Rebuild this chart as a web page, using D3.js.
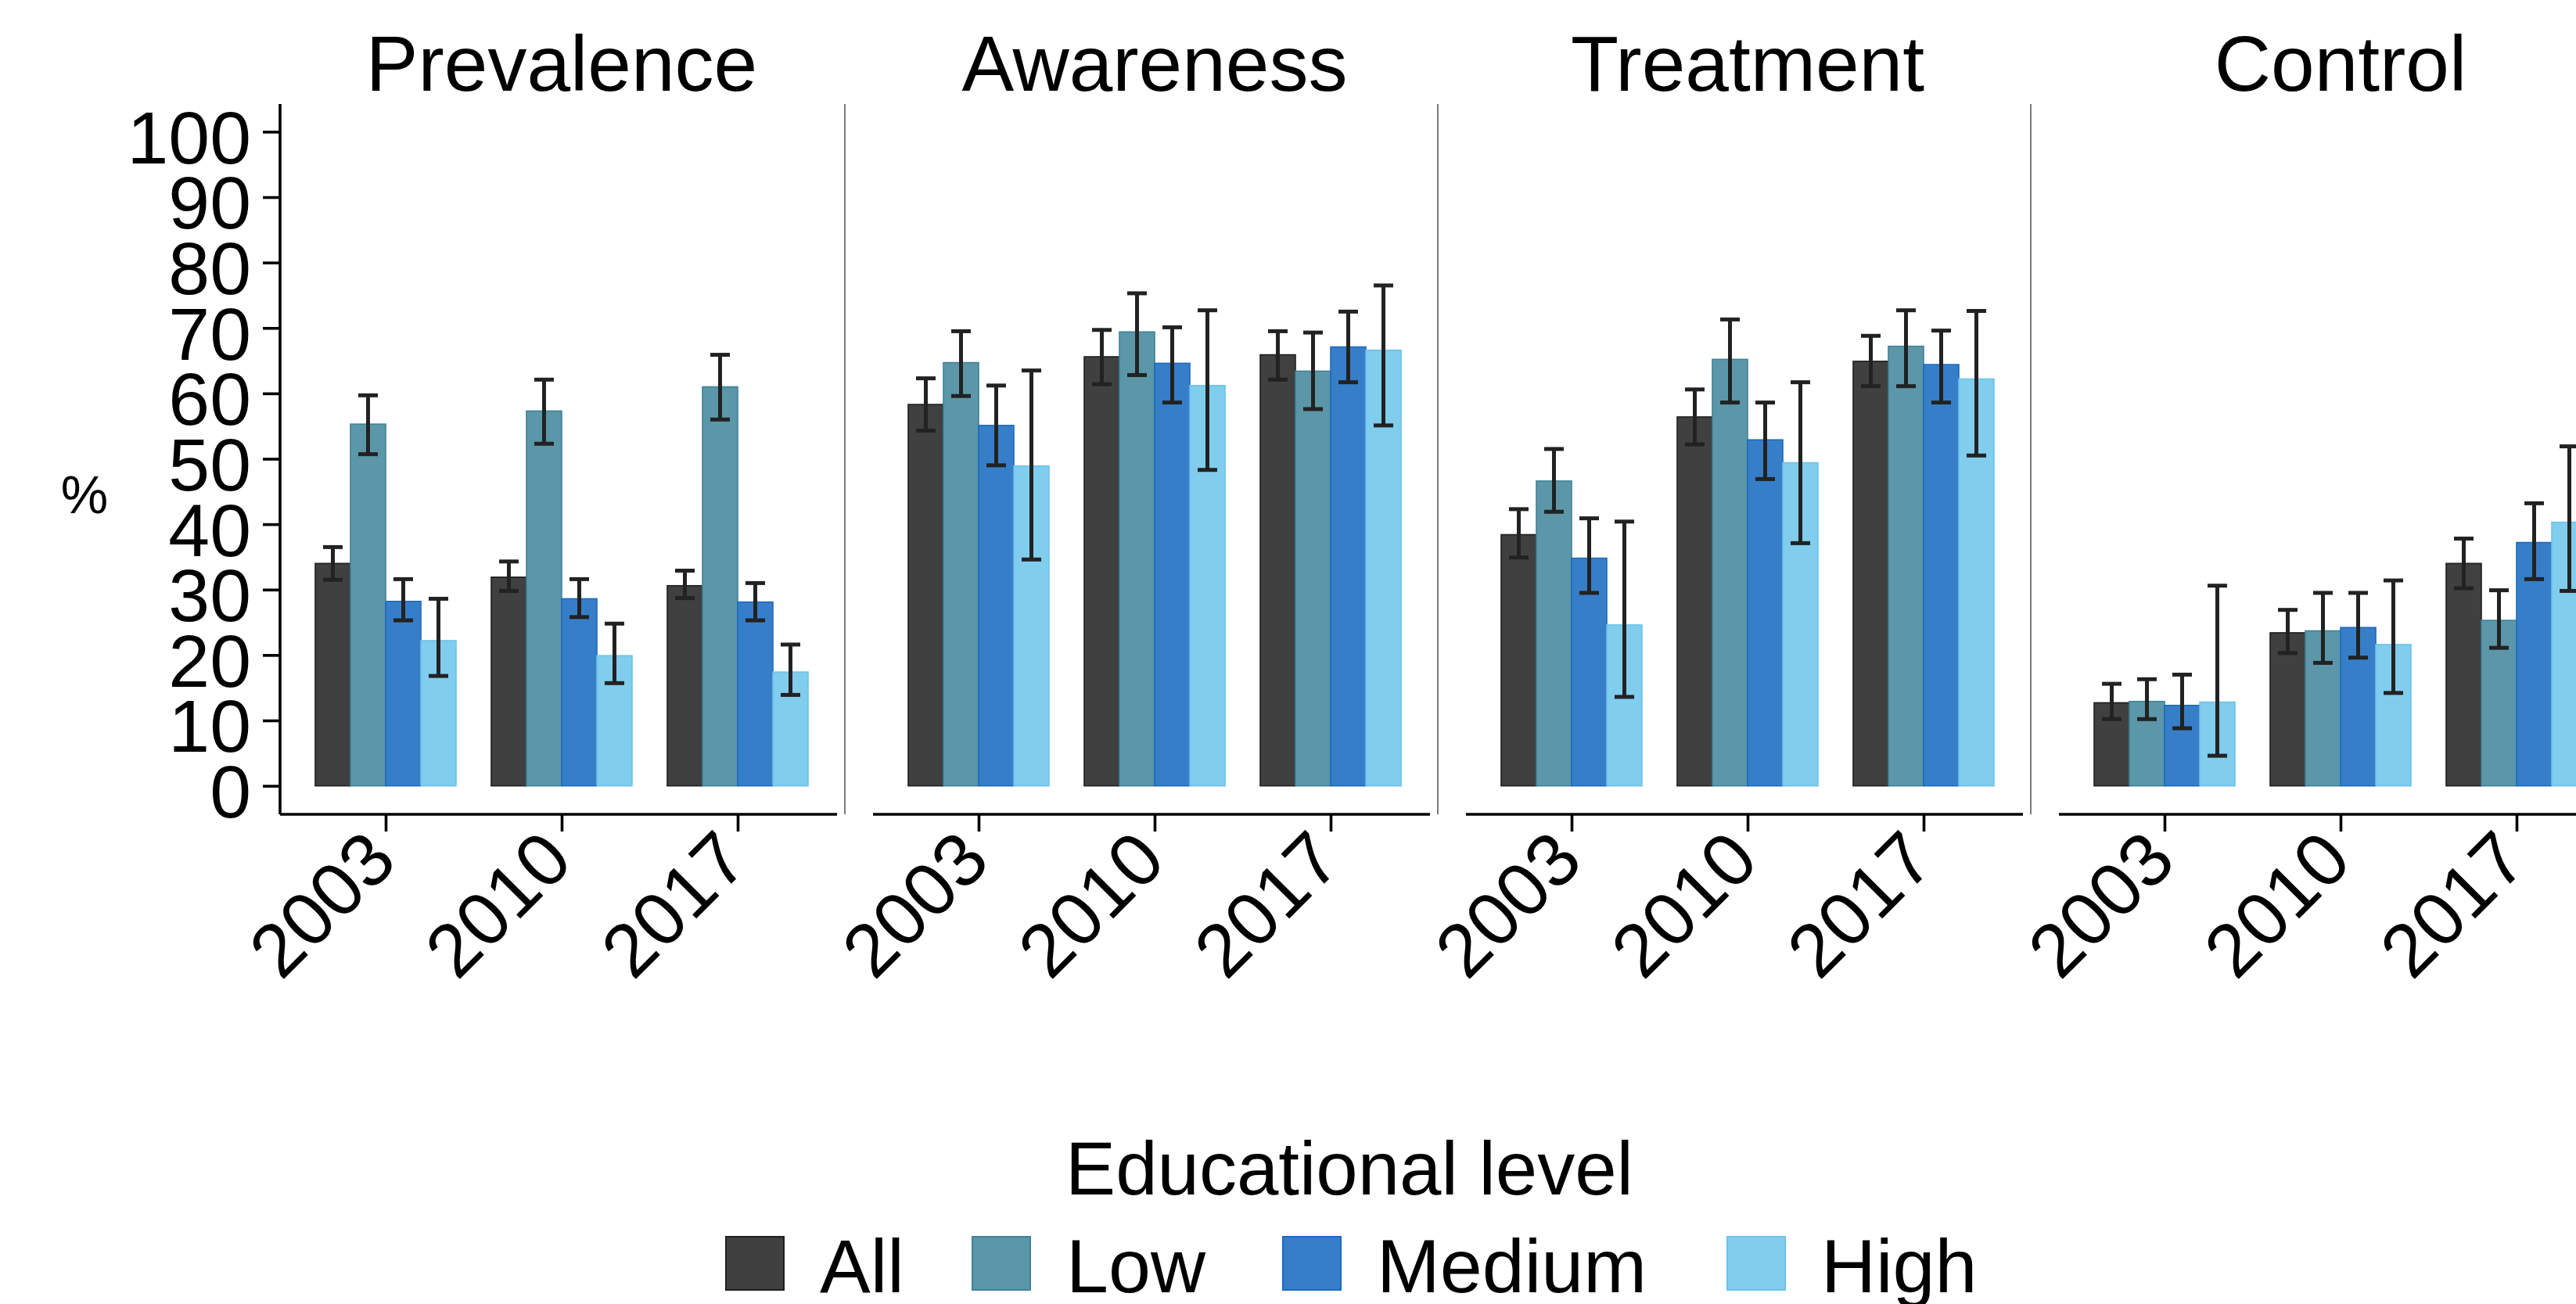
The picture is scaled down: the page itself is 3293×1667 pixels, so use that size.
<!DOCTYPE html>
<html>
<head>
<meta charset="utf-8">
<script src="https://cdn.jsdelivr.net/npm/d3@7"></script>
<style>
  html, body { margin: 0; padding: 0; background: #fff; }
  svg { display: block; }
  text { font-family: "Liberation Sans", Arial, sans-serif; fill: #000; }
</style>
</head>
<body>
<script>
// ---------------- data ----------------
const years = ["2003", "2010", "2017"];
const levels = ["All", "Low", "Medium", "High"];
const panelNames = ["Prevalence", "Awareness", "Treatment", "Control"];
const yTicks = [0, 10, 20, 30, 40, 50, 60, 70, 80, 90, 100];

// values[year][level]
const prevalence   = [[34.0, 55.3, 28.2, 22.2], [31.9, 57.3, 28.6, 19.9], [30.6, 61.0, 28.1, 17.4]];
const prevalenceLo = [[31.5, 50.7, 25.3, 16.8], [29.8, 52.3, 25.8, 15.7], [28.7, 56.0, 25.3, 13.9]];
const prevalenceHi = [[36.5, 59.7, 31.6, 28.6], [34.3, 62.1, 31.6, 24.8], [32.9, 65.9, 31.0, 21.6]];

const awareness   = [[58.3, 64.7, 55.1, 48.9], [65.6, 69.4, 64.6, 61.2], [65.9, 63.4, 67.1, 66.6]];
const awarenessLo = [[54.3, 59.6, 49.0, 34.6], [61.4, 62.8, 58.6, 48.3], [62.1, 57.6, 61.7, 55.1]];
const awarenessHi = [[62.3, 69.5, 61.2, 63.5], [69.7, 75.3, 70.1, 72.7], [69.5, 69.3, 72.5, 76.5]];

const treatment   = [[38.4, 46.6, 34.8, 24.6], [56.4, 65.2, 52.9, 49.4], [64.9, 67.2, 64.4, 62.2]];
const treatmentLo = [[34.9, 41.9, 29.5, 13.6], [52.2, 58.6, 46.9, 37.1], [61.1, 61.1, 58.6, 50.5]];
const treatmentHi = [[42.3, 51.5, 40.9, 40.4], [60.6, 71.3, 58.6, 61.7], [68.8, 72.7, 69.6, 72.6]];

const control   = [[12.7, 12.9, 12.3, 12.8], [23.4, 23.7, 24.2, 21.6], [34.0, 25.3, 37.2, 40.3]];
const controlLo = [[10.2, 10.2, 8.8, 4.6], [20.3, 18.8, 19.6, 14.2], [30.2, 21.1, 31.6, 29.8]];
const controlHi = [[15.6, 16.3, 17.0, 30.6], [26.9, 29.5, 29.5, 31.4], [37.8, 29.9, 43.2, 51.9]];

const fillColors   = ["#404040", "#5B97A9", "#367FC8", "#80CDEE"];
const strokeColors = ["#1e1e1e", "#3F8397", "#1D69C0", "#6CC3EA"];

const panelData = [
  {name: panelNames[0], v: prevalence, lo: prevalenceLo, hi: prevalenceHi},
  {name: panelNames[1], v: awareness,  lo: awarenessLo,  hi: awarenessHi},
  {name: panelNames[2], v: treatment,  lo: treatmentLo,  hi: treatmentHi},
  {name: panelNames[3], v: control,    lo: controlLo,    hi: controlHi}
];

// ---------------- layout ----------------
const W = 3293, H = 1667;
const panelLeft0 = 358, panelStep = 758, panelW = 720;
const panelTop = 133, panelBottom = 1041;
const legendKeyX = [928, 1243, 1640, 2208];

const svg = d3.select("body").append("svg").attr("width", W).attr("height", H);

const y = d3.scaleLinear().domain([0, 100]).range([1004.6, 168.4]);
const x = d3.scalePoint().domain(years).range([0, panelW]).padding(0.6);
const xl = d3.scaleBand().domain(levels).range([-0.4 * x.step(), 0.4 * x.step()]).padding(0);
const color = d3.scaleOrdinal().domain(levels).range(fillColors);
const strokeC = d3.scaleOrdinal().domain(levels).range(strokeColors);
const capHalf = 12.5;
const ebWidth = 5;

panelData.forEach((p, pi) => {
  const left = panelLeft0 + pi * panelStep;
  const g = svg.append("g").attr("transform", `translate(${left},0)`);

  // title
  g.append("text")
    .attr("x", panelW / 2).attr("y", 116)
    .attr("text-anchor", "middle")
    .style("font-size", "100px")
    .text(p.name);

  // right border line
  g.append("line")
    .attr("x1", panelW + 2).attr("x2", panelW + 2)
    .attr("y1", panelTop).attr("y2", panelBottom)
    .attr("stroke", "#7a7a7a").attr("stroke-width", 2);

  // bars
  const flat = [];
  years.forEach((yr, yi) => levels.forEach((lv, li) => {
    flat.push({year: yr, level: lv, v: p.v[yi][li], lo: p.lo[yi][li], hi: p.hi[yi][li]});
  }));

  g.selectAll("rect.bar").data(flat).enter().append("rect")
    .attr("class", "bar")
    .attr("x", d => x(d.year) + xl(d.level))
    .attr("width", xl.bandwidth())
    .attr("y", d => y(d.v))
    .attr("height", d => y(0) - y(d.v))
    .attr("fill", d => color(d.level))
    .attr("stroke", d => strokeC(d.level))
    .attr("stroke-width", 1.6);

  // error bars
  const eb = g.selectAll("g.eb").data(flat).enter().append("g").attr("class", "eb")
    .attr("transform", d => `translate(${x(d.year) + xl(d.level) + xl.bandwidth() / 2},0)`);
  eb.append("line").attr("x1", 0).attr("x2", 0)
    .attr("y1", d => y(d.lo)).attr("y2", d => y(d.hi))
    .attr("stroke", "#222").attr("stroke-width", ebWidth);
  eb.append("line").attr("x1", -capHalf).attr("x2", capHalf)
    .attr("y1", d => y(d.hi)).attr("y2", d => y(d.hi))
    .attr("stroke", "#222").attr("stroke-width", ebWidth);
  eb.append("line").attr("x1", -capHalf).attr("x2", capHalf)
    .attr("y1", d => y(d.lo)).attr("y2", d => y(d.lo))
    .attr("stroke", "#222").attr("stroke-width", ebWidth);

  // x axis
  const xa = g.append("g").attr("transform", `translate(0,${panelBottom})`)
    .call(d3.axisBottom(x).tickSize(22).tickSizeOuter(0).tickFormat(d => d));
  xa.select(".domain").remove();
  xa.append("line").attr("x1", 0).attr("x2", 712).attr("y1", 0).attr("y2", 0)
    .attr("stroke", "#000").attr("stroke-width", 3.6);
  xa.selectAll(".tick line").attr("stroke", "#000").attr("stroke-width", 3.6);
  xa.selectAll(".tick text")
    .attr("x", 0).attr("y", 0).attr("dy", 0)
    .attr("text-anchor", "end")
    .attr("transform", "translate(17,63) rotate(-45)")
    .style("font-size", "96px")
    .style("font-family", "'Liberation Sans', Arial, sans-serif")
    .attr("fill", "#000");

  // y axis on first panel
  if (pi === 0) {
    const ya = g.append("g")
      .call(d3.axisLeft(y).tickValues(yTicks).tickSize(22).tickPadding(15).tickSizeOuter(0));
    ya.select(".domain").remove();
    ya.append("line").attr("x1", 0).attr("x2", 0).attr("y1", panelTop).attr("y2", panelBottom)
      .attr("stroke", "#000").attr("stroke-width", 3.6);
    ya.selectAll(".tick line").attr("stroke", "#000").attr("stroke-width", 3.6);
    ya.selectAll(".tick text")
      .attr("dy", "0.42em")
      .style("font-size", "95px")
      .style("font-family", "'Liberation Sans', Arial, sans-serif")
      .attr("fill", "#000");
  }
});

// y axis title
svg.append("text")
  .attr("x", 108).attr("y", 656)
  .attr("text-anchor", "middle")
  .style("font-size", "68px")
  .text("%");

// ---------------- legend ----------------
svg.append("text")
  .attr("x", 1725).attr("y", 1527)
  .attr("text-anchor", "middle")
  .style("font-size", "96px")
  .text("Educational level");

levels.forEach((lv, i) => {
  const lx = legendKeyX[i];
  svg.append("rect")
    .attr("x", lx).attr("y", 1581)
    .attr("width", 74).attr("height", 68)
    .attr("fill", color(lv))
    .attr("stroke", strokeC(lv)).attr("stroke-width", 2);
  svg.append("text")
    .attr("x", lx + 120).attr("y", 1652)
    .style("font-size", "97px")
    .text(lv);
});
</script>
</body>
</html>
